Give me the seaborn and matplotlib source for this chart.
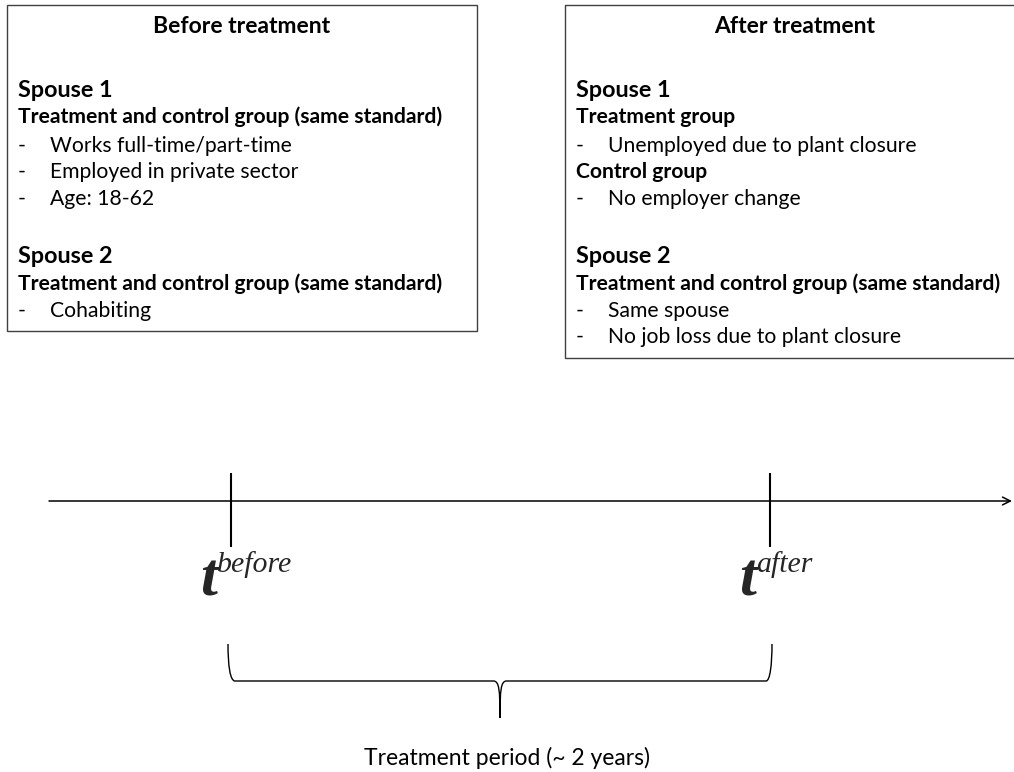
import matplotlib
matplotlib.use("Agg")
import matplotlib.pyplot as plt
import seaborn as sns
from matplotlib.patches import Rectangle, PathPatch
from matplotlib.path import Path

# Box contents: (text, kind) where kind is head / sub / item
before_title = "Before treatment"
before_lines = [
    ("Spouse 1", "head"),
    ("Treatment and control group (same standard)", "sub"),
    ("Works full-time/part-time", "item"),
    ("Employed in private sector", "item"),
    ("Age: 18-62", "item"),
    ("Spouse 2", "head"),
    ("Treatment and control group (same standard)", "sub"),
    ("Cohabiting", "item"),
]
before_baselines = [97, 123, 152, 178, 205, 263, 290, 317]

after_title = "After treatment"
after_lines = [
    ("Spouse 1", "head"),
    ("Treatment group", "sub"),
    ("Unemployed due to plant closure", "item"),
    ("Control group", "sub"),
    ("No employer change", "item"),
    ("Spouse 2", "head"),
    ("Treatment and control group (same standard)", "sub"),
    ("Same spouse", "item"),
    ("No job loss due to plant closure", "item"),
]
after_baselines = [97, 123, 152, 178, 205, 263, 290, 317, 343]

time_labels = ["before", "after"]
time_ticks = [231, 770]
period_label = "Treatment period (~ 2 years)"

sns.set_theme(style="white")
plt.rcParams["font.family"] = ["Lato", "DejaVu Sans"]

fig = plt.figure(figsize=(10.14, 7.72), dpi=100)
ax = fig.add_axes([0, 0, 1, 1])
ax.set_xlim(0, 1014)
ax.set_ylim(772, 0)
ax.axis("off")

body_size = 15.2
sub_size = 15.2
head_size = 16.8
title_size = 16.5


def draw_box(x0, y0, x1, y1, title, title_x, lines, baselines):
    ax.add_patch(Rectangle((x0, y0), x1 - x0, y1 - y0, fill=False,
                           edgecolor="#404040", lw=1.0))
    ax.text(title_x, 33, title, ha="center", va="baseline",
            fontsize=title_size, fontweight="bold", color="black")
    left = x0 + 11
    for (txt, kind), yb in zip(lines, baselines):
        if kind == "head":
            ax.text(left, yb, txt, va="baseline", fontsize=head_size,
                    fontweight="bold", color="black")
        elif kind == "sub":
            ax.text(left, yb, txt, va="baseline", fontsize=sub_size,
                    fontweight="bold", color="black")
        else:
            ax.text(left, yb, "-", va="baseline", fontsize=body_size, color="black")
            ax.text(left + 32, yb, txt, va="baseline", fontsize=body_size,
                    color="black")


draw_box(7, 5, 477, 331, before_title, 242, before_lines, before_baselines)
draw_box(565, 5, 1030, 358, after_title, 795, after_lines, after_baselines)

# timeline
ax.annotate("", xy=(1012, 501), xytext=(49, 501),
            arrowprops=dict(arrowstyle="->", lw=1.1, color="black",
                            shrinkA=0, shrinkB=0, mutation_scale=14))
for tx, lab in zip(time_ticks, time_labels):
    ax.plot([tx, tx], [473, 547], color="black", lw=1.5, solid_capstyle="butt")
    ax.text(tx - 31, 596, "t", va="baseline", fontsize=44,
            family="Liberation Serif", style="italic", fontweight="bold")
    ax.text(tx - 14, 572, lab, va="baseline", fontsize=21.5,
            family="Liberation Serif", style="italic")

# curly brace under the period
bl, br, btop, bmid, btip, bc = 228, 772, 644, 681, 718, 500
verts = [
    (bl, btop), (bl, 665), (230, bmid), (235, bmid),
    (bc - 6, bmid),
    (bc - 1, bmid + 1), (bc, bmid + 8), (bc, btip),
    (bc, bmid + 8), (bc + 1, bmid + 1), (bc + 6, bmid),
    (br - 6, bmid),
    (br - 2, bmid), (br, 665), (br, btop),
]
codes = ([Path.MOVETO] + [Path.CURVE4] * 3 + [Path.LINETO]
         + [Path.CURVE4] * 3 + [Path.CURVE4] * 3 + [Path.LINETO]
         + [Path.CURVE4] * 3)
ax.add_patch(PathPatch(Path(verts, codes), fill=False, edgecolor="black", lw=1.0))

ax.text(bc + 7, 765, period_label, ha="center", va="baseline",
        fontsize=16.5, color="black")

fig.savefig("out.png", dpi=100)
